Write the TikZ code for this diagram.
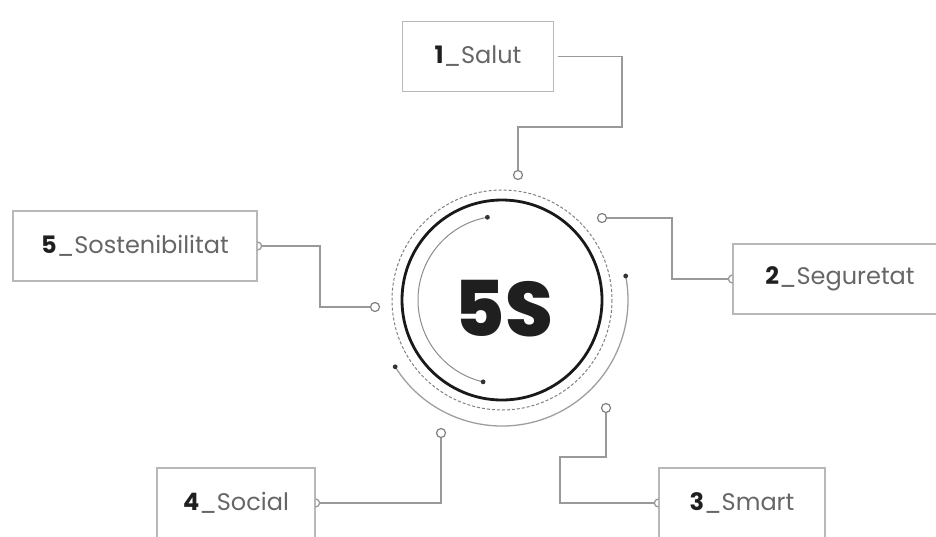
\documentclass[tikz,border=0pt]{standalone}
\usepackage{fontspec}
\setmainfont{Poppins}
\newfontfamily\heavyfont{Poppins ExtraBold}

\tikzset{
  labelbox/.style={draw=black!28, line width=1.2pt, minimum height=70, inner sep=0pt,
    font=\fontsize{24}{24}\selectfont, text=black!60},
  wire/.style={draw=black!40, line width=1.3pt},
  term/.style={circle, draw=black!50, line width=1.2pt, fill=white, minimum size=9pt, inner sep=0pt},
}
\newcommand{\boxlabel}[2]{\textcolor{black!88}{\bfseries #1}\_#2}

\begin{document}
\begin{tikzpicture}[x=1pt,y=-1pt]
    \useasboundingbox (0,0) rectangle (936,536);
    \coordinate (O) at (502,300);
    \def\rmain{100}   % the black ring
    \def\rdots{110}   % the dashed ring
    \def\rout{126}    % outer arc
    \def\rin{84}      % inner arc
    \draw[line width=2.8pt, black!90] (O) circle (\rmain);
    \draw[black!50, line width=1pt, dash pattern=on 3pt off 2pt] (O) circle (\rdots);
    \draw[black!38, line width=1.3pt] (O) ++(148:\rout) arc[start angle=148, end angle=-11, radius=\rout];
    \draw[black!45, line width=1pt] (O) ++(260:\rin) arc[start angle=260, end angle=103, radius=\rin];
    \foreach \a/\rr in {148/\rout, -11/\rout, 260/\rin, 103/\rin}
    {
        \fill[black!80] (O) ++(\a:\rr) circle (2.4);
    }
    \node[font=\fontsize{77}{77}\heavyfont, text=black!88] (title) at (504,309) {5S};

    % the five labels
    \node[labelbox, minimum width=151] (s1) at (478,56.5) {\boxlabel{1}{Salut}};
    \node[labelbox, minimum width=214] (s2) at (840,279) {\boxlabel{2}{Seguretat}};
    \node[labelbox, minimum width=166] (s3) at (742,503) {\boxlabel{3}{Smart}};
    \node[labelbox, minimum width=158] (s4) at (236,503) {\boxlabel{4}{Social}};
    \node[labelbox, minimum width=244] (s5) at (135,246) {\boxlabel{5}{Sostenibilitat}};

    % terminals on the rings
    \node[term] (t1) at (518,175) {};
    \node[term] (t2) at (602,218) {};
    \node[term] (t3) at (606,408) {};
    \node[term] (t4) at (441,433) {};
    \node[term] (t5) at (375,307) {};

    % tabs on the boxes
    \draw[wire] (s2.west) ++(0,-4) arc[start angle=-90, end angle=-270, radius=4];
    \draw[wire] (s3.west) ++(0,-4) arc[start angle=-90, end angle=-270, radius=4];
    \draw[wire] (s4.east) ++(0,-4) arc[start angle=-90, end angle=90, radius=4];
    \draw[wire] (s5.east) ++(0,-4) arc[start angle=-90, end angle=90, radius=4];

    \draw[wire] (s1.east) ++(4,0) -| (622,127) -| (t1);
    \draw[wire] (s2.west) ++(-4,0) -| (672,218) -- (t2);
    \draw[wire] (s3.west) ++(-4,0) -| (560,457) -| (t3);
    \draw[wire] (s4.east) ++(4,0) -| (t4);
    \draw[wire] (s5.east) ++(4,0) -| (320,307) -- (t5);
\end{tikzpicture}
\end{document}
